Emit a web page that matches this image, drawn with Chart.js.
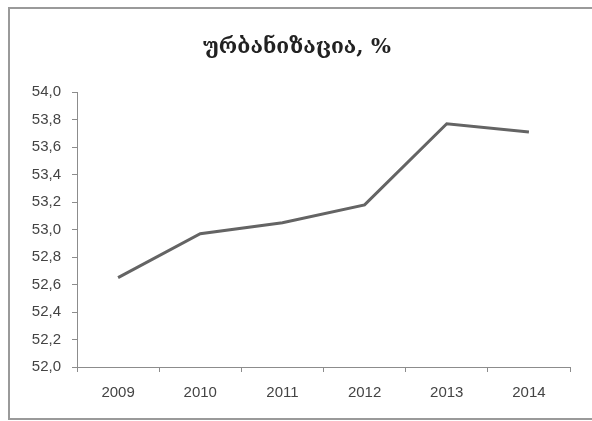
<!DOCTYPE html>
<html>
<head>
<meta charset="utf-8">
<script src="https://cdn.jsdelivr.net/npm/chart.js@4/dist/chart.umd.min.js"></script>
<style>
html,body{margin:0;padding:0;background:#fff;overflow:hidden;}
#wrap{position:relative;width:592px;height:421px;overflow:hidden;}
#frame{position:absolute;left:8px;top:7px;width:640px;height:413px;border-left:2px solid #9a9a9a;border-top:2px solid #9a9a9a;border-bottom:2px solid #9a9a9a;box-sizing:border-box;pointer-events:none;}
canvas{position:absolute;left:0;top:0;}
</style>
</head>
<body>
<div id="wrap">
<canvas id="c" width="592" height="421"></canvas>
<div id="frame"></div>
</div>
<script>
const categories = ["2009", "2010", "2011", "2012", "2013", "2014"];
const urbanization = [52.65, 52.97, 53.05, 53.18, 53.77, 53.71];
const chartTitle = "ურბანიზაცია, %";
const yMin = 52.0, yMax = 54.0, yStep = 0.2;

const axisColor = "#8c8c8c";
const tickFont = {family: "'Liberation Sans', Arial, sans-serif", size: 15};

new Chart(document.getElementById('c'), {
  type: 'line',
  data: {
    labels: categories,
    datasets: [{
      data: urbanization,
      borderColor: '#646464',
      borderWidth: 3,
      pointRadius: 0,
      tension: 0,
      fill: false
    }]
  },
  options: {
    responsive: false,
    animation: false,
    devicePixelRatio: 1,
    layout: {padding: {left: 24, right: 22, top: 35, bottom: 0}},
    plugins: {
      legend: {display: false},
      tooltip: {enabled: false},
      title: {
        display: true,
        text: chartTitle,
        color: '#222',
        font: {family: "'DejaVu Serif', 'DejaVu Sans', serif", size: 21, weight: 'bold'},
        padding: {top: 0, bottom: 32}
      }
    },
    scales: {
      x: {
        offset: true,
        grid: {display: true, drawOnChartArea: false, drawTicks: true, tickLength: 5, color: axisColor, offset: true},
        border: {display: true, color: axisColor, width: 1},
        ticks: {color: '#444', font: tickFont, padding: 12, maxRotation: 0},
        afterFit: s => { s.height = 54; }
      },
      y: {
        min: yMin, max: yMax,
        grid: {display: true, drawOnChartArea: false, drawTicks: true, tickLength: 5, color: axisColor},
        border: {display: true, color: axisColor, width: 1},
        ticks: {
          stepSize: yStep, color: '#444', font: tickFont, padding: 11,
          callback: v => v.toFixed(1).replace('.', ',')
        },
        afterFit: s => { s.width = 53; }
      }
    }
  }
});
</script>
</body>
</html>
